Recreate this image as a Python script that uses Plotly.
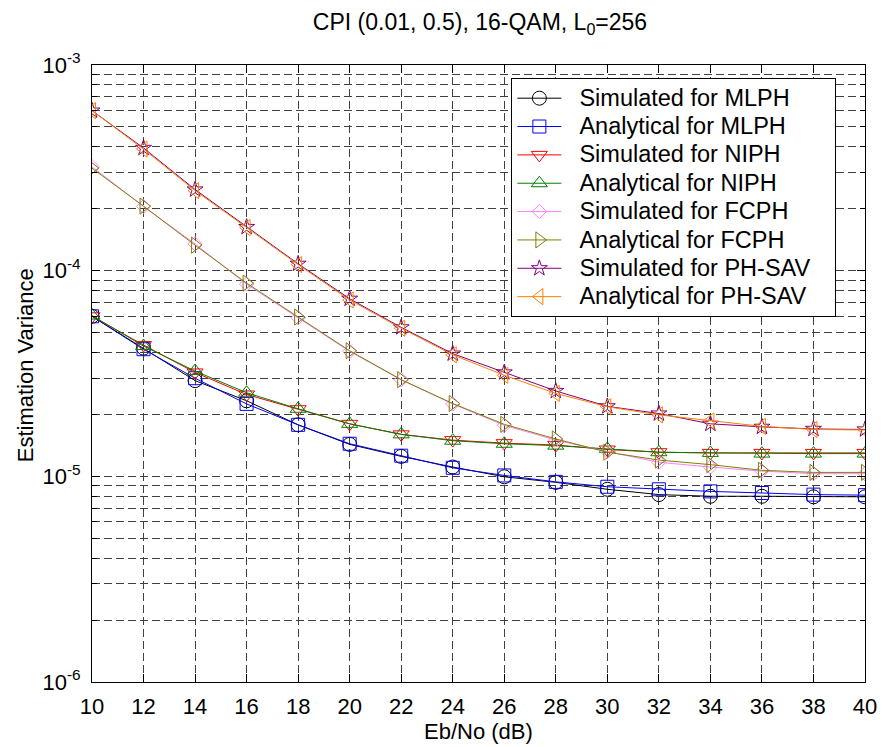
import plotly.graph_objects as go

# ---------------- data ----------------
ebno = [10, 12, 14, 16, 18, 20, 22, 24, 26, 28, 30, 32, 34, 36, 38, 40]

mlph_sim = [6.0e-5, 4.2e-5, 2.92e-5, 2.33e-5, 1.78e-5, 1.43e-5, 1.25e-5, 1.11e-5,
            9.95e-6, 9.35e-6, 8.65e-6, 8.15e-6, 8.0e-6, 8.0e-6, 7.95e-6, 7.95e-6]
mlph_ana = [6.0e-5, 4.15e-5, 3.0e-5, 2.25e-5, 1.78e-5, 1.44e-5, 1.26e-5, 1.1e-5,
            1.01e-5, 9.4e-6, 8.9e-6, 8.65e-6, 8.45e-6, 8.3e-6, 8.15e-6, 8.1e-6]
niph_sim = [6.0e-5, 4.35e-5, 3.2e-5, 2.5e-5, 2.12e-5, 1.8e-5, 1.6e-5, 1.5e-5,
            1.45e-5, 1.42e-5, 1.35e-5, 1.31e-5, 1.3e-5, 1.3e-5, 1.3e-5, 1.3e-5]
niph_ana = [6.05e-5, 4.3e-5, 3.25e-5, 2.55e-5, 2.13e-5, 1.8e-5, 1.6e-5, 1.49e-5,
            1.44e-5, 1.41e-5, 1.36e-5, 1.31e-5, 1.3e-5, 1.29e-5, 1.29e-5, 1.29e-5]
fcph_sim = [3.2e-4, 2.05e-4, 1.35e-4, 8.6e-5, 5.9e-5, 4.05e-5, 2.95e-5, 2.25e-5,
            1.77e-5, 1.5e-5, 1.32e-5, 1.17e-5, 1.11e-5, 1.06e-5, 1.03e-5, 1.03e-5]
fcph_ana = [3.15e-4, 2.06e-4, 1.33e-4, 8.7e-5, 5.95e-5, 4.08e-5, 2.95e-5, 2.26e-5,
            1.79e-5, 1.52e-5, 1.31e-5, 1.2e-5, 1.14e-5, 1.07e-5, 1.045e-5, 1.045e-5]
phsav_sim = [6.0e-4, 3.95e-4, 2.48e-4, 1.63e-4, 1.08e-4, 7.3e-5, 5.3e-5, 3.95e-5,
             3.2e-5, 2.6e-5, 2.19e-5, 2.02e-5, 1.8e-5, 1.74e-5, 1.7e-5, 1.69e-5]
phsav_ana = [6.0e-4, 3.9e-4, 2.45e-4, 1.62e-4, 1.07e-4, 7.2e-5, 5.25e-5, 3.9e-5,
             3.1e-5, 2.53e-5, 2.18e-5, 1.99e-5, 1.86e-5, 1.75e-5, 1.69e-5, 1.68e-5]

series_names = ["Simulated for MLPH", "Analytical for MLPH",
                "Simulated for NIPH", "Analytical for NIPH",
                "Simulated for FCPH", "Analytical for FCPH",
                "Simulated for PH-SAV", "Analytical for PH-SAV"]
series_values = [mlph_sim, mlph_ana, niph_sim, niph_ana,
                 fcph_sim, fcph_ana, phsav_sim, phsav_ana]

y_tick_vals = [1e-6, 1e-5, 1e-4, 1e-3]
y_tick_text = ["10<sup>-6</sup>", "10<sup>-5</sup>", "10<sup>-4</sup>", "10<sup>-3</sup>"]

title_text = "CPI (0.01, 0.5), 16-QAM, L<sub>0</sub>=256"
x_title = "Eb/No (dB)"
y_title = "Estimation Variance"

# ---------------- styles ----------------
colors = ["#000000", "#0000FF", "#FF0000", "#008000",
          "#FF80FF", "#808000", "#800080", "#FF8000"]
symbols = ["circle-open", "square-open", "triangle-down-open", "triangle-up-open",
           "diamond-open", "triangle-right-open", "star-open", "triangle-left-open"]
msizes = [14, 13, 14, 14, 11, 14, 12, 14]

FONT = "Liberation Sans, Arial, Helvetica, sans-serif"
GRID = "#404040"
DASH = "8px,4px"
L, R, T, B = 92, 868, 65, 682          # plot-area pixel edges
W, H = 889, 747

fig = go.Figure()
for name, ys, c, s, ms in zip(series_names, series_values, colors, symbols, msizes):
    fig.add_trace(go.Scatter(
        x=ebno, y=ys, mode="lines+markers",
        name="<span style='font-size:23.5px'>&nbsp;&nbsp;" + name + "&nbsp;&nbsp;&nbsp;</span>",
        line=dict(color=c, width=1),
        marker=dict(symbol=s, size=ms, color=c, line=dict(color=c, width=1)),
    ))

minor_vals = [m * 10.0 ** e for e in range(-6, -3) for m in range(2, 10)]

fig.update_layout(
    width=W, height=H,
    margin=dict(l=L, r=W - R, t=T, b=H - B),
    paper_bgcolor="white", plot_bgcolor="white",
    font=dict(family=FONT, size=22, color="black"),
    title=dict(text=title_text, x=480 / W, xanchor="center",
               y=1 - 22 / H, yanchor="middle", font=dict(size=23)),
    showlegend=True,
    legend=dict(x=(513 - L) / (R - L), y=(B - 78) / (B - T), xanchor="left", yanchor="top",
                bgcolor="white", bordercolor="black", borderwidth=1,
                font=dict(size=19.5), itemwidth=44),
    annotations=[
        dict(text=x_title, xref="paper", yref="paper",
             x=(480 - L) / (R - L), y=(B - 731) / (B - T),
             xanchor="center", yanchor="middle", showarrow=False,
             font=dict(size=22)),
        dict(text=y_title, xref="paper", yref="paper", textangle=-90,
             x=(25 - L) / (R - L), y=(B - 365) / (B - T),
             xanchor="center", yanchor="middle", showarrow=False,
             font=dict(size=22)),
    ],
)

fig.update_xaxes(
    range=[10, 40], tick0=10, dtick=2,
    showline=True, linecolor="black", linewidth=1, mirror="allticks",
    ticks="inside", ticklen=8, tickcolor="black", ticklabelstandoff=5,
    showgrid=True, gridcolor=GRID, gridwidth=1, griddash=DASH,
    zeroline=False,
)
fig.update_yaxes(
    type="log", range=[-6, -3],
    tickmode="array", tickvals=y_tick_vals, ticktext=y_tick_text,
    showline=True, linecolor="black", linewidth=1, mirror="allticks",
    ticks="inside", ticklen=8, tickcolor="black", ticklabelstandoff=6,
    showgrid=True, gridcolor=GRID, gridwidth=1, griddash=DASH,
    minor=dict(tickmode="array", tickvals=minor_vals, ticks="inside", ticklen=5,
               tickcolor="black", showgrid=True, gridcolor=GRID, gridwidth=1,
               griddash=DASH),
    zeroline=False,
)

fig.write_html("out.html")
